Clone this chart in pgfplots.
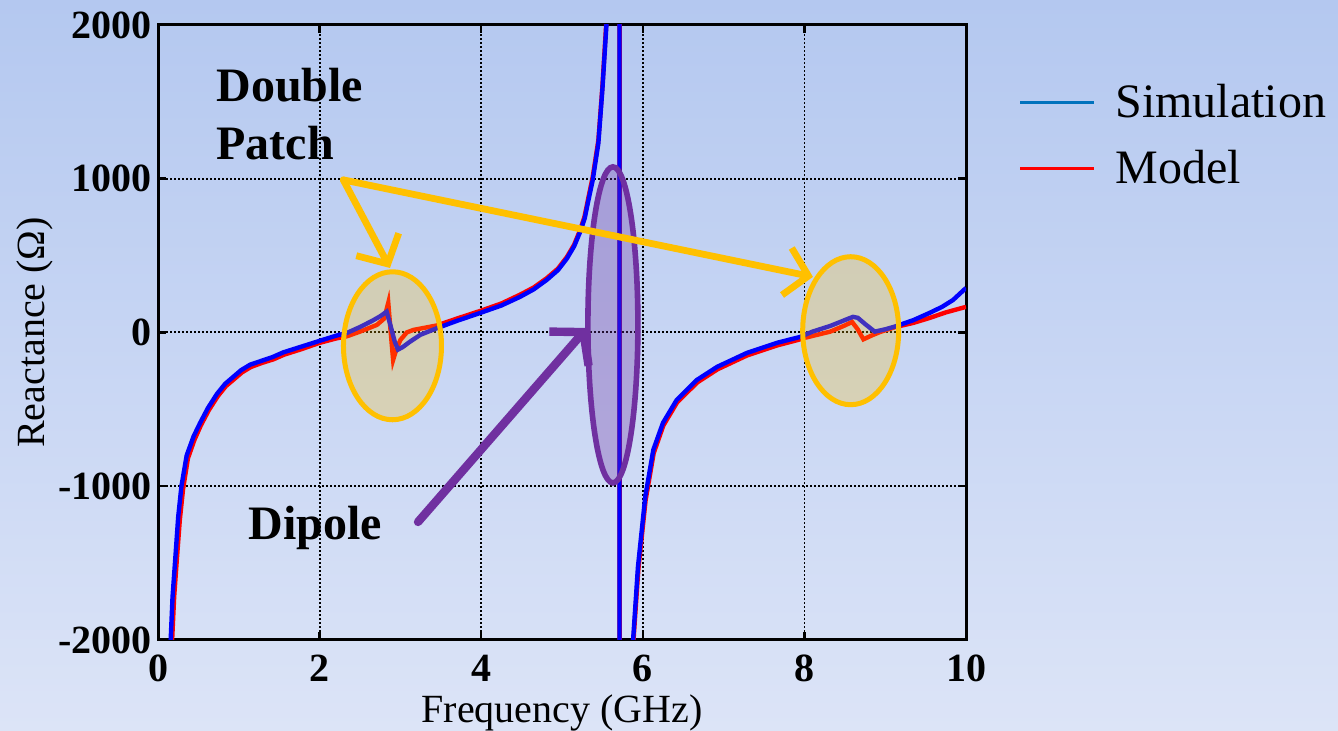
\documentclass[border=0pt]{standalone}
\usepackage{pgfplots}
\pgfplotsset{compat=1.18}
\usepackage{fontspec}
\setmainfont{Liberation Serif}
\usetikzlibrary{arrows.meta}
\definecolor{bgtop}{RGB}{180,200,240}
\definecolor{bgbot}{RGB}{220,228,247}
\definecolor{gold}{RGB}{255,192,0}
\definecolor{ppl}{RGB}{112,48,160}
\definecolor{legblue}{RGB}{0,114,189}
\begin{document}
\begin{tikzpicture}
\shade[top color=bgtop, bottom color=bgbot] (0,0) rectangle (669pt,365pt);
\useasboundingbox (0,0) rectangle (669pt,365pt);
\begin{axis}[
  at={(79pt,45pt)}, anchor=south west,
  scale only axis, width=404pt, height=307.5pt,
  xmin=0, xmax=10, ymin=-2000, ymax=2000,
  xtick={0,2,4,6,8,10}, xticklabels={0,2,4,6,8,10},
  ytick={-2000,-1000,0,1000,2000}, yticklabels={-2000,-1000,0,1000,2000},
  tick align=inside, major tick length=4pt,
  every tick/.style={black, line width=1.2pt},
  axis line style={line width=1.5pt},
  grid=major, grid style={black, line width=0.9pt, dash pattern=on 1pt off 1pt},
  ticklabel style={font=\fontsize{20}{24}\selectfont\bfseries},
  xticklabel style={inner sep=0pt, yshift=-7.5pt},
  yticklabel style={inner sep=0pt, xshift=-3pt},
  xlabel={Frequency (GHz)}, ylabel={Reactance (Ω)},
  label style={font=\fontsize{20}{24}\selectfont},
  xlabel style={at={(axis description cs:0.5,-0.118)}, anchor=center},
  ylabel style={at={(axis description cs:-0.1522,0.5)}, anchor=center},
  legend style={at={(axis description cs:1,1)}, anchor=north west, xshift=26pt, yshift=-29.5pt,
    draw=none, fill=none, inner sep=0pt, font=\fontsize{24}{28}\selectfont,
    nodes={inner sep=0pt}, column sep=10pt, row sep=15pt},
  legend cell align=left,
  legend image code/.code={\draw[#1] (0pt,0pt) -- (37pt,0pt);},
]
\addplot[red, line width=2.2pt, forget plot] coordinates {
(0.15,-2600) (0.175,-2000) (0.20,-1720) (0.23,-1500) (0.27,-1220) (0.31,-1020)
(0.37,-820) (0.45,-700) (0.53,-605) (0.63,-505) (0.74,-415) (0.84,-350)
(0.94,-305) (1.04,-260) (1.15,-225) (1.29,-198) (1.43,-175) (1.56,-145)
(1.77,-110) (2.00,-68) (2.20,-40) (2.34,-25) (2.50,5) (2.71,49) (2.80,90)
(2.85,193) (2.88,0) (2.91,-179) (2.95,-110) (3.00,-49) (3.08,0) (3.16,16)
(3.45,45) (3.70,90) (3.99,140) (4.25,188) (4.48,245) (4.65,292) (4.81,352)
(4.95,415) (5.06,490) (5.15,570) (5.22,660) (5.28,755) (5.32,860) (5.38,1010)
(5.45,1250) (5.50,1600) (5.55,2030) (5.60,2980) (5.64,4700) (5.67,8000)
(5.69,16000) (5.707,60000) (5.720,-60000) (5.735,-15000) (5.765,-6800)
(5.805,-3800) (5.845,-2600) (5.885,-2000) (5.945,-1540) (6.035,-1090)
(6.135,-785) (6.255,-605) (6.425,-455) (6.675,-325) (6.925,-240) (7.29,-150)
(7.66,-85) (7.95,-45) (8.00,-36) (8.32,5) (8.50,45) (8.59,68) (8.66,20)
(8.73,-45) (8.85,-16) (8.94,3) (9.12,34) (9.35,62) (9.55,94) (9.75,130) (10.0,166)
};
\addplot[blue, line width=2.2pt, forget plot] coordinates {
(0.13,-2600) (0.157,-2000) (0.18,-1720) (0.21,-1500) (0.25,-1200) (0.29,-1000)
(0.355,-800) (0.44,-677) (0.52,-590) (0.62,-490) (0.73,-400) (0.83,-335)
(0.93,-290) (1.03,-245) (1.14,-210) (1.28,-185) (1.42,-160) (1.55,-130)
(1.76,-95) (2.00,-55) (2.20,-22) (2.34,-3) (2.50,35) (2.65,75) (2.75,105)
(2.83,135) (2.88,40) (2.93,-60) (2.97,-112) (3.03,-95) (3.12,-60) (3.25,-15)
(3.45,27) (3.70,75) (3.99,127) (4.25,175) (4.48,231) (4.65,280) (4.81,341)
(4.95,405) (5.06,480) (5.15,560) (5.22,648) (5.28,740) (5.32,842) (5.38,990)
(5.45,1230) (5.50,1580) (5.55,2000) (5.60,2930) (5.64,4600) (5.67,7900)
(5.69,15800) (5.705,60000) (5.718,-60000) (5.73,-15000) (5.76,-6800)
(5.80,-3800) (5.84,-2600) (5.88,-2000) (5.94,-1525) (6.03,-1070) (6.13,-764)
(6.25,-588) (6.42,-439) (6.67,-309) (6.92,-224) (7.29,-133) (7.66,-68)
(7.95,-29) (8.10,5) (8.32,42) (8.50,80) (8.60,101) (8.66,95) (8.75,55)
(8.87,5) (9.00,20) (9.12,38) (9.35,80) (9.55,127) (9.70,165) (9.84,211) (10.0,289)
};
\addlegendimage{legblue, line width=1.6pt}
\addlegendentry{Simulation}
\addlegendimage{red, line width=1.6pt}
\addlegendentry{Model}
% annotations
\draw[ppl, line width=2.8pt, fill=ppl, fill opacity=0.3] (axis cs:5.63,49) ellipse [x radius=12.5pt, y radius=79pt];
\draw[gold, line width=2.5pt, fill=gold, fill opacity=0.25] (axis cs:2.902,-87) ellipse [x radius=24.5pt, y radius=37pt];
\draw[gold, line width=2.5pt, fill=gold, fill opacity=0.25] (axis cs:8.573,11) ellipse [x radius=24pt, y radius=37pt];
\draw[gold, line width=3.4pt, line cap=round, line join=round, -{Straight Barb[length=11pt,width=24pt]}]
  (axis cs:2.293,992) -- (axis cs:2.871,419);
\draw[gold, line width=3.4pt, line cap=round, line join=round, -{Straight Barb[length=11pt,width=24pt]}]
  (axis cs:2.293,992) -- (axis cs:8.106,361);
\draw[ppl, line width=4.2pt, line cap=round, -{Straight Barb[length=11pt,width=26pt]}]
  (axis cs:3.218,-1233) -- (axis cs:5.31,29);
\node[anchor=base west, inner sep=0pt, font=\fontsize{24}{28}\selectfont\bfseries] at (axis cs:0.718,1501) {Double};
\node[anchor=base west, inner sep=0pt, font=\fontsize{24}{28}\selectfont\bfseries] at (axis cs:0.718,1122) {Patch};
\node[anchor=base west, inner sep=0pt, font=\fontsize{24}{28}\selectfont\bfseries] at (axis cs:1.114,-1350) {Dipole};
\end{axis}
\end{tikzpicture}
\end{document}
